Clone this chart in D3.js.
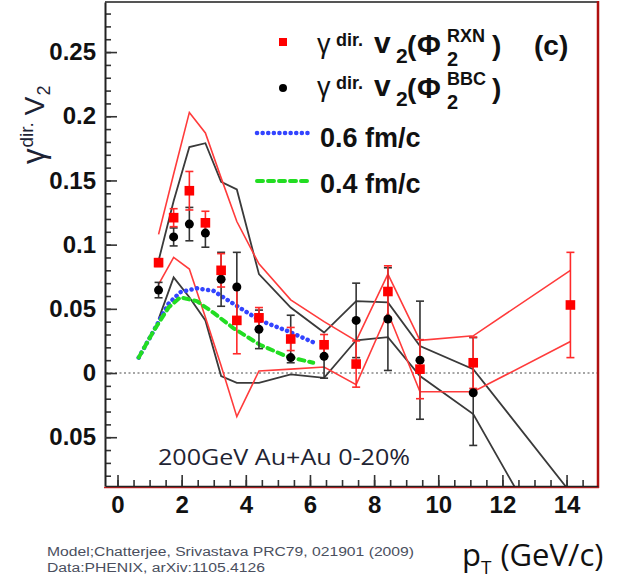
<!DOCTYPE html>
<html>
<head>
<meta charset="utf-8">
<script src="https://cdn.jsdelivr.net/npm/d3@7"></script>
<style>
  html, body { margin: 0; padding: 0; background: #fff; }
  svg { display: block; }
</style>
</head>
<body>
<div id="chart"></div>
<script>
// data points: gamma dir. v2 vs pT
const ptRxn = [1.28, 1.75, 2.24, 2.74, 3.23, 3.72, 4.41, 5.40, 6.44, 7.44, 8.43, 9.43, 11.09, 14.12]
const v2Rxn = [0.086, 0.121, 0.142, 0.117, 0.080, 0.041, 0.043, 0.0265, 0.022, 0.007, 0.0635, 0.003, 0.008, 0.053]
const errRxn = [0.003, 0.007, 0.015, 0.009, 0.013, 0.026, 0.008, 0.009, 0.008, 0.018, 0.02, 0.023, 0.02, 0.041]

const ptBbc = [1.28, 1.75, 2.24, 2.74, 3.23, 3.72, 4.41, 5.40, 6.44, 7.44, 8.43, 9.43, 11.09]
const v2Bbc = [0.0646, 0.106, 0.116, 0.109, 0.073, 0.067, 0.034, 0.012, 0.013, 0.041, 0.042, 0.010, -0.0154]
const errUpBbc = [0.006, 0.007, 0.013, 0.011, 0.021, 0.027, 0.015, 0.033, 0.01, 0.029, 0.04, 0.046, 0.043]
const errDnBbc = [0.006, 0.007, 0.013, 0.011, 0.021, 0.027, 0.015, 0.004, 0.017, 0.029, 0.04, 0.046, 0.041]

// systematic bands (upper / lower edges)
const ptBand = [1.28, 1.75, 2.24, 2.74, 3.23, 3.72, 4.41, 5.40, 6.44, 7.44, 8.43, 9.43, 11.09, 14.12]
const rxnBandHi = [0.108, 0.155, 0.203, 0.187, 0.152, 0.118, 0.085, 0.057, 0.040, 0.025, 0.077, 0.0255, 0.029, 0.080]
const rxnBandLo = [0.069, 0.090, 0.081, 0.0435, 0.0057, -0.034, 0.0016, 0.003, 0.0047, -0.009, 0.047, -0.0146, -0.0146, 0.0245]
const bbcBandHi = [0.0875, 0.134, 0.176, 0.179, 0.149, 0.143, 0.077, 0.051, 0.0315, 0.056, 0.055, 0.021, 0.003, -0.093]
const bbcBandLo = [0.042, 0.0745, 0.059, 0.041, -0.0023, -0.0076, -0.0076, -0.001, -0.0037, 0.0255, 0.028, -0.0023, -0.032, -0.165]

// model curves
const ptModel = [0.66, 1.13, 1.59, 1.96, 2.47, 2.99, 3.61, 4.44, 5.27, 6.10]
const model06 = [0.012, 0.033, 0.054, 0.063, 0.066, 0.064, 0.054, 0.041, 0.033, 0.024]
const model04 = [0.012, 0.033, 0.051, 0.059, 0.056, 0.047, 0.035, 0.022, 0.013, 0.008]

const xTicks = [0, 2, 4, 6, 8, 10, 12, 14]
const yTicks = [-0.05, 0, 0.05, 0.1, 0.15, 0.2, 0.25]
const yTickLabels = ['0.05', '0', '0.05', '0.1', '0.15', '0.2', '0.25']

const W = 619, H = 582
const svg = d3.select('#chart').append('svg').attr('width', W).attr('height', H)

const x = d3.scaleLinear().domain([-0.39, 14.98]).range([105, 598])
const y = d3.scaleLinear().domain([-0.088, 0.289]).range([486, 2])

svg.append('clipPath').attr('id', 'plot')
  .append('rect').attr('x', 105).attr('y', 2).attr('width', 493).attr('height', 484)

// zero line
svg.append('line')
  .attr('x1', 106).attr('x2', 597)
  .attr('y1', y(0)).attr('y2', y(0))
  .attr('stroke', '#888').attr('stroke-width', 1.5).attr('stroke-dasharray', '2,2.5')

const plot = svg.append('g').attr('clip-path', 'url(#plot)')

const line = d3.line().x(d => x(d[0])).y(d => y(d[1]))

function drawLine(xs, ys, color, width, dash) {
  plot.append('path')
    .datum(xs.map((d, i) => [d, ys[i]]))
    .attr('d', line)
    .attr('fill', 'none')
    .attr('stroke', color)
    .attr('stroke-width', width)
    .attr('stroke-dasharray', dash || null)
    .attr('stroke-linecap', dash ? 'round' : 'butt')
}

drawLine(ptBand, bbcBandHi, '#3a3a3a', 1.8)
drawLine(ptBand, bbcBandLo, '#3a3a3a', 1.8)
drawLine(ptBand, rxnBandHi, '#ff3b3b', 1.6)
drawLine(ptBand, rxnBandLo, '#ff3b3b', 1.6)

drawLine(ptModel, model06, '#3344ff', 4.5, '0.1,5.5')
drawLine(ptModel, model04, '#22dd22', 4, '6,5')

// error bars
function errBars(xs, ys, up, dn, color) {
  const g = plot.append('g').attr('stroke', color).attr('stroke-width', 1.6)
  xs.forEach((d, i) => {
    const cx = x(d), y1 = y(ys[i] + up[i]), y2 = y(ys[i] - dn[i])
    g.append('line').attr('x1', cx).attr('x2', cx).attr('y1', y1).attr('y2', y2)
    g.append('line').attr('x1', cx - 4).attr('x2', cx + 4).attr('y1', y1).attr('y2', y1)
    g.append('line').attr('x1', cx - 4).attr('x2', cx + 4).attr('y1', y2).attr('y2', y2)
  })
}
errBars(ptBbc, v2Bbc, errUpBbc, errDnBbc, '#333')
errBars(ptRxn, v2Rxn, errRxn, errRxn, '#ff2a2a')

plot.selectAll('circle.bbc')
  .data(ptBbc)
  .enter()
  .append('circle')
  .attr('cx', d => x(d))
  .attr('cy', (d, i) => y(v2Bbc[i]))
  .attr('r', 4.5)
  .attr('fill', '#000')

plot.selectAll('rect.rxn')
  .data(ptRxn)
  .enter()
  .append('rect')
  .attr('x', d => x(d) - 4.8)
  .attr('y', (d, i) => y(v2Rxn[i]) - 4.8)
  .attr('width', 9.6)
  .attr('height', 9.6)
  .attr('fill', '#ff0000')

// frame
svg.append('line').attr('x1', 105).attr('x2', 599).attr('y1', 2).attr('y2', 2)
  .attr('stroke', '#555').attr('stroke-width', 2)
svg.append('line').attr('x1', 598).attr('x2', 598).attr('y1', 1).attr('y2', 488)
  .attr('stroke', '#b01010').attr('stroke-width', 2.5)
svg.append('line').attr('x1', 104).attr('x2', 599).attr('y1', 487.5).attr('y2', 487.5)
  .attr('stroke', '#d02020').attr('stroke-width', 1.5)

// axes
const tickFont = "bold 24px 'Liberation Sans', Arial, sans-serif"

const yMinor = d3.range(-8, 29).map(d => d / 100)
svg.append('g').attr('transform', 'translate(105,0)')
  .call(d3.axisLeft(y).tickValues(yMinor).tickSize(-6).tickFormat(''))
  .call(g => g.select('.domain').remove())
  .selectAll('line').attr('stroke', '#333').attr('stroke-width', 1.6)

const yAx = svg.append('g').attr('transform', 'translate(105,0)')
  .call(d3.axisLeft(y).tickValues(yTicks).tickSize(-12).tickSizeOuter(0).tickPadding(9)
    .tickFormat((d, i) => yTickLabels[i]))
yAx.select('.domain').attr('stroke', '#222').attr('stroke-width', 2)
yAx.selectAll('line').attr('stroke', '#333').attr('stroke-width', 1.6)
yAx.selectAll('text').style('font', tickFont).attr('fill', '#111')

const xMinor = d3.range(0, 30).map(d => d / 2)
svg.append('g').attr('transform', 'translate(0,486)')
  .call(d3.axisBottom(x).tickValues(xMinor).tickSize(-6).tickFormat(''))
  .call(g => g.select('.domain').remove())
  .selectAll('line').attr('stroke', '#333').attr('stroke-width', 1.6)

const xAx = svg.append('g').attr('transform', 'translate(0,486)')
  .call(d3.axisBottom(x).tickValues(xTicks).tickSize(-11).tickSizeOuter(0).tickPadding(10))
xAx.select('.domain').attr('stroke', '#222').attr('stroke-width', 1.6)
xAx.selectAll('line').attr('stroke', '#333').attr('stroke-width', 1.6)
xAx.selectAll('text').style('font', tickFont).attr('fill', '#111')

// y title
const yt = svg.append('text')
  .attr('transform', 'translate(44,164) rotate(-90)')
  .attr('fill', '#1c2233')
  .style('font-family', "'Liberation Sans', Arial, sans-serif")
yt.append('tspan').style('font-size', '31px').text('γ')
yt.append('tspan').style('font-size', '19px').attr('dy', -11).attr('dx', 1).text('dir.')
yt.append('tspan').style('font-size', '28px').attr('dy', 11).attr('dx', 7).text('V')
yt.append('tspan').style('font-size', '18px').attr('dy', 6).attr('dx', 1).text('2')

// legend
const leg = svg.append('g').style('font-family', "'Liberation Sans', Arial, sans-serif")
  .style('font-weight', 'bold').attr('fill', '#111')
leg.append('rect').attr('x', 279).attr('y', 38).attr('width', 8).attr('height', 8).attr('fill', '#ff0000')
leg.append('circle').attr('cx', 283).attr('cy', 88).attr('r', 4).attr('fill', '#000')
leg.append('line').attr('x1', 257).attr('x2', 308).attr('y1', 133).attr('y2', 133)
  .attr('stroke', '#3344ff').attr('stroke-width', 4.5).attr('stroke-dasharray', '0.1,5.5').attr('stroke-linecap', 'round')
leg.append('line').attr('x1', 257).attr('x2', 308).attr('y1', 181).attr('y2', 181)
  .attr('stroke', '#22dd22').attr('stroke-width', 4).attr('stroke-dasharray', '6,5').attr('stroke-linecap', 'round')

function legRow(dy, sup) {
  const t = (xx, yy, size, txt, weight) => leg.append('text').attr('x', xx).attr('y', yy + dy)
    .style('font-size', size + 'px').style('font-weight', weight || 'bold').text(txt)
  t(317, 53, 27, 'γ', 'normal')
  t(336, 46, 18, 'dir.')
  t(374, 53, 30, 'v')
  t(396, 63, 21, '2')
  t(407, 55, 28, '(')
  t(417, 55, 29, 'Φ')
  t(447, 42, 18, sup)
  t(447, 66, 20, '2')
  t(492, 55, 28, ')')
}
legRow(0, 'RXN')
legRow(43, 'BBC')
leg.append('text').attr('x', 534).attr('y', 55).style('font-size', '28px').text('(c)')
leg.append('text').attr('x', 320).attr('y', 147).style('font-size', '27px').text('0.6 fm/c')
leg.append('text').attr('x', 320).attr('y', 193).style('font-size', '27px').text('0.4 fm/c')

// annotations
svg.append('text').attr('x', 158).attr('y', 465)
  .style('font', "21px 'Open Sans', sans-serif").attr('fill', '#1f2433')
  .attr('textLength', 252).attr('lengthAdjust', 'spacingAndGlyphs')
  .text('200GeV Au+Au 0-20%')

svg.append('text').attr('x', 47).attr('y', 556)
  .style('font', "12.5px 'Liberation Sans', Arial, sans-serif").attr('fill', '#4a4f5e')
  .attr('textLength', 367).attr('lengthAdjust', 'spacingAndGlyphs')
  .text('Model;Chatterjee, Srivastava PRC79, 021901 (2009)')
svg.append('text').attr('x', 47).attr('y', 572)
  .style('font', "12.5px 'Liberation Sans', Arial, sans-serif").attr('fill', '#4a4f5e')
  .attr('textLength', 218).attr('lengthAdjust', 'spacingAndGlyphs')
  .text('Data:PHENIX, arXiv:1105.4126')

const pt = svg.append('text').attr('x', 462).attr('y', 566)
  .style('font', "31px 'Open Sans', sans-serif").attr('fill', '#111')
pt.append('tspan').text('p')
pt.append('tspan').attr('dy', 8).style('font-size', '19px').text('T')
pt.append('tspan').attr('dy', -8).attr('dx', 9).text('(GeV/c)')
</script>
</body>
</html>
